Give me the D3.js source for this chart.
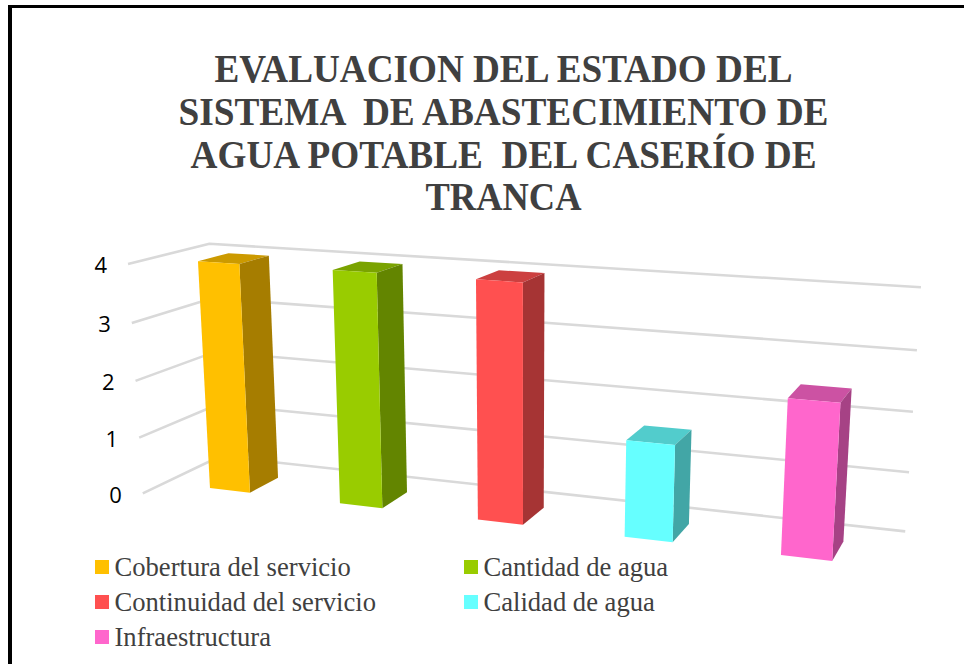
<!DOCTYPE html>
<html>
<head>
<meta charset="utf-8">
<script src="https://cdn.jsdelivr.net/npm/d3@7/dist/d3.min.js"></script>
<style>html,body{margin:0;padding:0;background:#fff;overflow:hidden}svg{display:block}</style>
</head>
<body>
<script>
const titleLines = ["EVALUACION DEL ESTADO DEL", "SISTEMA  DE ABASTECIMIENTO DE", "AGUA POTABLE  DEL CASERÍO DE", "TRANCA"];
const categories = ["Cobertura del servicio", "Cantidad de agua", "Continuidad del servicio", "Calidad de agua", "Infraestructura"];
const values = [4, 4, 4, 1.6, 2.5];
const colors = ["#FFC000", "#99CC00", "#FF5050", "#66FFFF", "#FF66CC"];
const tickValues = [0, 1, 2, 3, 4];

const W = 964, H = 664;
const svg = d3.select("body").append("svg").attr("width", W).attr("height", H);

// Perspective camera: homogeneous projection of (category, depth, value) to the page
const cam = { ox: 210, oy: 488, ux: 120.1, uy: 0.65, dx: 36.7, dy: 0.32, vx: -4.82, vy: -59.1, wu: -0.029, wd: 0.0319, wv: -0.00918 };
const uScale = d3.scaleBand().domain(categories).range([-0.36, 4.65]).paddingInner(0.686).paddingOuter(0.348).align(0.517);
const vScale = d3.scaleLinear().domain([0, 4]).range([0, 4]);
const wallFront = -0.70, wallBack = 1.88, barDepth = 1;

function project(u, d, value) {
  const v = vScale(value);
  const w = 1 + cam.wu * u + cam.wd * d + cam.wv * v;
  return [(cam.ox + cam.ux * u + cam.dx * d + cam.vx * v) / w,
          (cam.oy + cam.uy * u + cam.dy * d + cam.vy * v) / w];
}

// Frame
svg.append("line").attr("x1", 8).attr("x2", W).attr("y1", 6.5).attr("y2", 6.5).attr("stroke", "#000").attr("stroke-width", 3);
svg.append("line").attr("x1", 10).attr("x2", 10).attr("y1", 5).attr("y2", H).attr("stroke", "#000").attr("stroke-width", 4);

// Title
const titleY = [82, 125, 168, 210];
const titleW = [578, 650, 626, 156];
svg.append("g").selectAll("text").data(titleLines).join("text")
  .attr("x", 503.5).attr("y", (d, i) => titleY[i])
  .attr("text-anchor", "middle").attr("xml:space", "preserve").style("white-space", "pre")
  .attr("textLength", (d, i) => titleW[i]).attr("lengthAdjust", "spacingAndGlyphs")
  .attr("font-family", "'Liberation Serif'").attr("font-weight", "bold").attr("font-size", 40)
  .attr("fill", "#404040").text(d => d);

// Gridlines on left and back walls
const uMin = uScale.range()[0], uMax = uScale.range()[1];
const line = d3.line();
svg.append("g").selectAll("path").data(tickValues).join("path")
  .attr("d", t => line([project(uMin, wallFront, t), project(uMin, wallBack, t), project(uMax, wallBack, t)]))
  .attr("fill", "none").attr("stroke", "#D9D9D9").attr("stroke-width", 2.6).attr("stroke-linejoin", "round");

// Tick labels
svg.append("g").selectAll("text").data(tickValues).join("text")
  .attr("x", t => project(uMin, wallFront, t)[0] - 21)
  .attr("y", t => project(uMin, wallFront, t)[1] + 9.5)
  .attr("text-anchor", "end").attr("font-family", "'Open Sans'").attr("font-size", 22)
  .attr("fill", "#000").text(t => t);

// Bars
const bars = svg.append("g").selectAll("g").data(categories).join("g");
const poly = pts => line(pts) + "Z";
bars.each(function (c, i) {
  const u0 = uScale(c), u1 = u0 + uScale.bandwidth(), val = values[i], g = d3.select(this);
  const base = d3.color(colors[i]);
  const shade = k => d3.rgb(base.r * k, base.g * k, base.b * k).formatHex();
  g.append("path").attr("fill", shade(0.8)).attr("d", poly([project(u0, 0, val), project(u1, 0, val), project(u1, barDepth, val), project(u0, barDepth, val)]));
  g.append("path").attr("fill", shade(0.65)).attr("d", poly([project(u1, 0, 0), project(u1, barDepth, 0), project(u1, barDepth, val), project(u1, 0, val)]));
  g.append("path").attr("fill", colors[i]).attr("d", poly([project(u0, 0, 0), project(u1, 0, 0), project(u1, 0, val), project(u0, 0, val)]));
});

// Legend
const legendCol = [95, 464], legendRow = [560, 595, 630];
const legend = svg.append("g").selectAll("g").data(categories).join("g")
  .attr("transform", (c, i) => `translate(${legendCol[i % 2]},${legendRow[Math.floor(i / 2)]})`);
legend.append("rect").attr("width", 14).attr("height", 14).attr("fill", (c, i) => colors[i]);
legend.append("text").attr("x", 19.5).attr("y", 16)
  .attr("font-family", "'Liberation Serif'").attr("font-size", 26.6).attr("fill", "#404040").text(c => c);
</script>
</body>
</html>
